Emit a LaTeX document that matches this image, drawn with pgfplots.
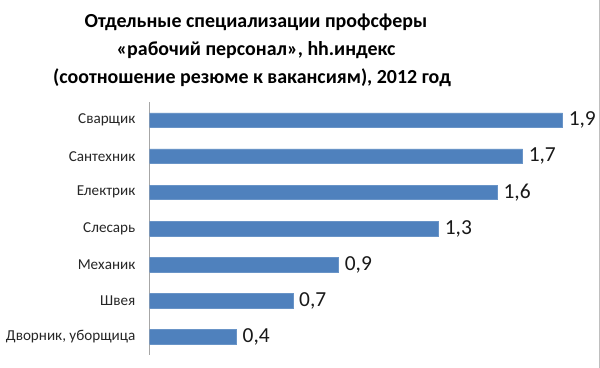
\documentclass[border=0pt]{standalone}
\usepackage{pgfplots}
\pgfplotsset{compat=1.18}
\usepackage{fontspec}
\setmainfont{Carlito}
\definecolor{barblue}{HTML}{4F81BD}
\begin{document}
\begin{tikzpicture}
\path[use as bounding box, fill=white] (0,0) rectangle (600bp,368bp);
\begin{scope}[font=\fontsize{20}{26}\selectfont\bfseries]
\node[anchor=base, inner sep=0pt] at (256bp,340bp) {Отдельные специализации профсферы};
\node[anchor=base, inner sep=0pt] at (256bp,312bp) {«рабочий персонал», hh.индекс};
\node[anchor=base, inner sep=0pt] at (252bp,284bp) {(соотношение резюме к вакансиям), 2012 год};
\end{scope}
\begin{axis}[
  at={(149.5bp,13bp)}, anchor=south west,
  scale only axis, width=434.8bp, height=253bp,
  xbar, bar width=14.5bp,
  xmin=0, xmax=2, ymin=-0.5, ymax=6.5, y dir=reverse,
  axis x line=none, axis y line=left,
  axis line style={-, draw=black!35, line width=0.8bp},
  ytick={0,...,6},
  yticklabels={Сварщик, Сантехник, Електрик, Слесарь, Механик, Швея, {Дворник, уборщица}},
  major tick length=0pt,
  yticklabel style={font=\fontsize{15.2}{17}\selectfont, text=black!85, inner sep=0pt, xshift=-14bp},
  point meta=x,
  nodes near coords={\pgfmathprintnumber[fixed, fixed zerofill, precision=1, use comma, assume math mode=true]{\pgfplotspointmeta}},
  nodes near coords style={font=\fontsize{21.5}{23}\selectfont, text=black!90, anchor=west, inner sep=0pt, xshift=6bp},
]
\addplot[fill=barblue, draw=barblue!85!white] coordinates {
(1.9,0) (1.716,1) (1.6,2) (1.33,3) (0.87,4) (0.66,5) (0.4,6)
};
\end{axis}
\draw[black!25, line width=1bp] (599bp,0) -- (599bp,368bp);
\end{tikzpicture}
\end{document}
